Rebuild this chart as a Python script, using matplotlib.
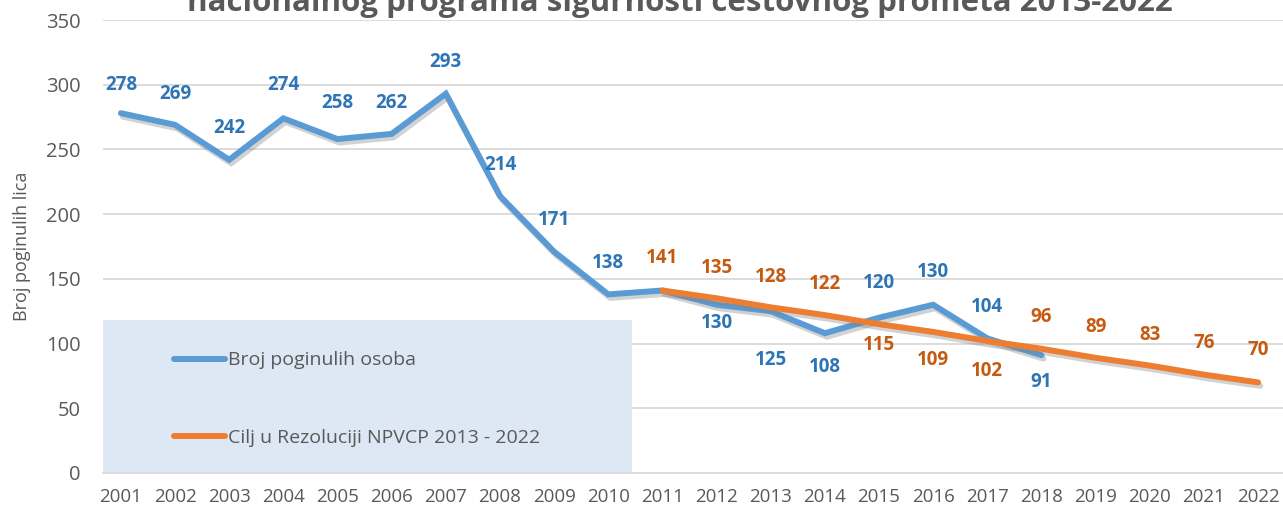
import matplotlib
matplotlib.use("Agg")
import matplotlib.pyplot as plt
import matplotlib.patheffects as pe
from matplotlib.patches import Rectangle

plt.rcParams['font.family'] = ['Open Sans', 'DejaVu Sans']

# podaci
years = list(range(2001, 2023))
deaths_years = list(range(2001, 2019))
deaths = [278, 269, 242, 274, 258, 262, 293, 214, 171, 138, 141, 130, 125, 108, 120, 130, 104, 91]
target_years = list(range(2011, 2023))
target = [141, 135, 128, 122, 115, 109, 102, 96, 89, 83, 76, 70]

title = "nacionalnog programa sigurnosti cestovnog prometa 2013-2022"
ylabel = "Broj poginulih lica"
legend_labels = ["Broj poginulih osoba", "Cilj u Rezoluciji NPVCP 2013 - 2022"]

# pomak oznaka od tocke (px, + gore / - dolje), None = bez oznake
deaths_off = [28, 31, 32, 33, 36, 31, 32, 31, 32, 31, None, -18, -49, -34, 35, 33, 31, -27]
target_off = [33, 30, 30, 31, -21, -28, -30, 32, 31, 31, 32, 32]

blue = '#5B9BD5'
blue_txt = '#2E75B6'
orange = '#ED7D31'
orange_txt = '#C55A11'
grey = '#595959'
grid = '#D9D9D9'

fig = plt.figure(figsize=(12.83, 5.13), dpi=100)
ax = fig.add_axes([103 / 1283, 1 - 473 / 513, 1180 / 1283, 453 / 513])

shadow = [pe.SimpleLineShadow(offset=(1.5, -2.5), shadow_color='#7F7F7F', alpha=0.35), pe.Normal()]
l1, = ax.plot(deaths_years, deaths, color=blue, lw=4.3, solid_capstyle='round',
              solid_joinstyle='miter', zorder=4, path_effects=shadow)
l2, = ax.plot(target_years, target, color=orange, lw=4.3, solid_capstyle='round',
              solid_joinstyle='miter', zorder=5, path_effects=shadow)


def put_labels(xs, vs, offs, color):
    for x, v, o in zip(xs, vs, offs):
        if o is None:
            continue
        ax.annotate(str(v), (x, v), xytext=(0, o * 0.72), textcoords='offset points',
                    ha='center', va='center', fontsize=13.5, fontweight='bold',
                    color=color, zorder=6)


put_labels(deaths_years, deaths, deaths_off, blue_txt)
put_labels(target_years, target, target_off, orange_txt)

ax.set_ylim(0, 350)
ax.set_xlim(2001 - 0.33, 2022 + 0.46)
ax.set_yticks(range(0, 351, 50))
ax.set_xticks(years)
ax.tick_params(axis='both', length=0, labelsize=13.5, colors=grey)
ax.tick_params(axis='x', pad=11)
ax.tick_params(axis='y', pad=16, labelsize=14.5)
ax.grid(axis='y', color=grid, lw=1.3)
ax.set_axisbelow(True)
for s in ['top', 'right', 'left']:
    ax.spines[s].set_visible(False)
ax.spines['bottom'].set_color(grid)
ax.spines['bottom'].set_linewidth(1.3)
ax.set_ylabel(ylabel, fontsize=13, color=grey)
ax.yaxis.set_label_coords(-72 / 1180, 0.5)

# legenda u plavom okviru
ax.add_patch(Rectangle((0, 0), (632 - 103) / 1180, 118 / 350, transform=ax.transAxes,
                       facecolor='#DEE8F4', edgecolor='none', zorder=2))
leg = ax.legend([l1, l2], legend_labels, loc='upper left', bbox_to_anchor=(0.052, 0.29),
                frameon=False, fontsize=14, handlelength=2.6, handletextpad=0.15,
                labelspacing=3.05, borderpad=0)
for t in leg.get_texts():
    t.set_color(grey)
for h in leg.get_lines():
    h.set_path_effects([])
    h.set_linewidth(4.3)

fig.text(680 / 1283, 1 - 11 / 513, title, ha='center', va='baseline', fontsize=22.5,
         fontweight='bold', color=grey)

fig.savefig('out.png', dpi=100)
